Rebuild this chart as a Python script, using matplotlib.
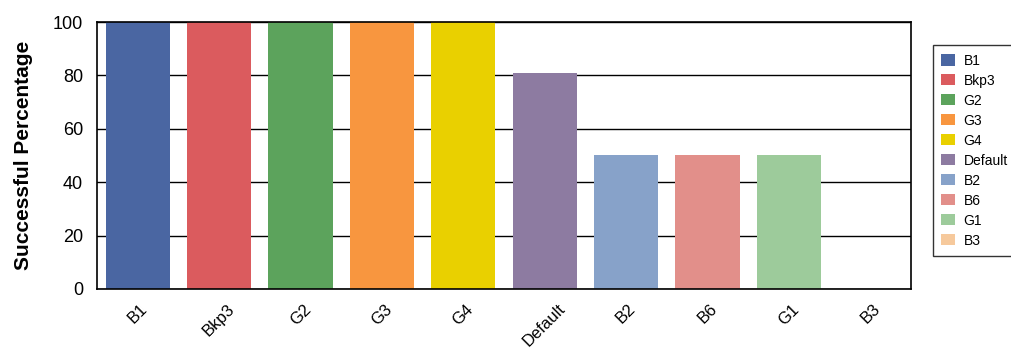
import numpy as np
import matplotlib
matplotlib.use("Agg")
import matplotlib.pyplot as plt
from matplotlib.patches import Patch

# Success percentage per configuration
CONFIGS = ["B1", "Bkp3", "G2", "G3", "G4", "Default", "B2", "B6", "G1", "B3"]
SUCCESS = [100, 100, 100, 100, 100, 81, 50, 50, 50, 0]
COLORS = ["#4a66a2", "#db5b5e", "#5ca35c", "#f8963f", "#e9d000",
          "#8d7ba1", "#87a2c9", "#e28f8a", "#9dcb9b", "#f6c99c"]

plt.rcParams["font.family"] = ["Liberation Sans", "DejaVu Sans"]

fig = plt.figure(figsize=(10.11, 3.55), dpi=100)
ax = fig.add_axes([0.096, 0.186, 0.805, 0.752])

x = np.arange(len(CONFIGS))
ax.bar(x, SUCCESS, width=0.79, color=COLORS, zorder=2)

ax.set_xlim(-0.5, len(CONFIGS) - 0.5)
ax.set_ylim(0, 100)
ax.set_yticks(range(0, 101, 20))
ax.yaxis.grid(True, color="black", linewidth=1.0, zorder=1)
ax.set_axisbelow(True)
ax.tick_params(axis="both", length=0)
ax.tick_params(axis="y", labelsize=13, pad=10)
ax.set_xticks(x)
ax.set_xticklabels(CONFIGS, rotation=45, ha="center", va="top", fontsize=12)
ax.tick_params(axis="x", pad=9)
for s in ax.spines.values():
    s.set_linewidth(1.2)

ax.set_ylabel("Successful Percentage", fontsize=15, fontweight="bold",
              labelpad=14)

handles = [Patch(facecolor=c, edgecolor="none") for c in COLORS]
fig.legend(handles, CONFIGS, loc="upper left", bbox_to_anchor=(0.923, 0.872),
           bbox_transform=fig.transFigure, fontsize=10, frameon=True,
           fancybox=False, edgecolor="black", handlelength=1.0,
           handleheight=0.85, labelspacing=0.43, handletextpad=0.6,
           borderpad=0.6, borderaxespad=0.0)

fig.savefig("out.png", dpi=100)
